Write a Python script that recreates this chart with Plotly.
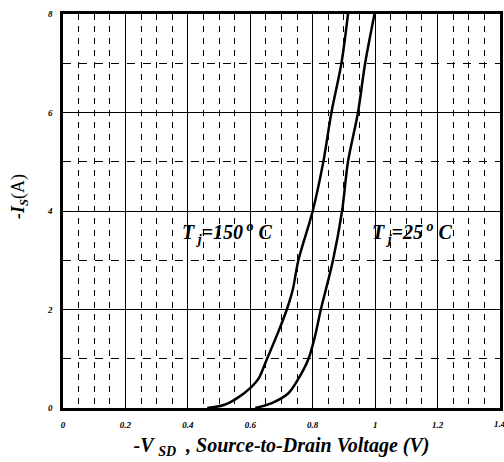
import plotly.graph_objects as go

v_150 = [0.462, 0.515, 0.558, 0.604, 0.627, 0.653, 0.690, 0.717, 0.736, 0.754, 0.800, 0.834, 0.860, 0.892, 0.913]
i_150 = [0.0, 0.06, 0.20, 0.43, 0.60, 0.99, 1.55, 2.00, 2.40, 3.00, 4.00, 5.00, 6.00, 7.00, 8.00]
v_25 = [0.616, 0.669, 0.722, 0.752, 0.786, 0.807, 0.826, 0.842, 0.865, 0.894, 0.913, 0.945, 0.968, 0.998]
i_25 = [0.0, 0.10, 0.30, 0.57, 0.99, 1.45, 2.00, 2.40, 3.00, 4.00, 5.00, 6.00, 7.00, 8.00]

x_ticks = [0, 0.2, 0.4, 0.6, 0.8, 1, 1.2]
x_tick_text = ["0", "0.2", "0.4", "0.6", "0.8", "1", "1.2"]
x_last_tick = 1.4
x_last_text = "1.4"
y_ticks = [0, 2, 4, 6, 8]
y_tick_text = ["0", "2", "4", "6", "8"]

font_family = "Liberation Serif"

fig = go.Figure()
for vx, iy in ((v_150, i_150), (v_25, i_25)):
    fig.add_trace(go.Scatter(x=vx, y=iy, mode="lines",
                             line=dict(color="black", width=2.5, shape="spline", smoothing=0.9),
                             showlegend=False, hoverinfo="skip"))

fig.add_annotation(x=0.528, y=3.55, text="<b><i>T<sub> j</sub>=150<sup> o</sup> C</i></b>",
                   showarrow=False, font=dict(family=font_family, size=20, color="black"))
fig.add_annotation(x=1.12, y=3.55, text="<b><i>T<sub> j</sub>=25<sup> o</sup> C</i></b>",
                   showarrow=False, font=dict(family=font_family, size=20, color="black"))
fig.add_annotation(x=x_last_tick, y=0, xref="x", yref="paper", yanchor="top", yshift=-9,
                   text="<b><i>%s</i></b>" % x_last_text, showarrow=False,
                   font=dict(family=font_family, size=9, color="black"))
fig.add_annotation(x=0, y=0.5, xref="paper", yref="paper", xanchor="center", yanchor="middle",
                   xshift=-44, yshift=14, textangle=-90, showarrow=False,
                   text="<b><i>-I<sub>S</sub></i></b>(A)",
                   font=dict(family=font_family, size=18, color="black"))

fig.update_layout(
    width=504, height=462,
    margin=dict(l=63, r=1, t=14, b=54),
    paper_bgcolor="white", plot_bgcolor="white",
    font=dict(family=font_family, color="black"),
    xaxis=dict(
        range=[0, 1.4], tickvals=x_ticks, ticktext=["<b><i>%s</i></b>" % t for t in x_tick_text],
        tickfont=dict(size=9), ticks="", ticklabelstandoff=6,
        showgrid=True, gridcolor="black", gridwidth=1,
        minor=dict(dtick=0.05, showgrid=True, gridcolor="black", gridwidth=1, griddash="6px,6px"),
        showline=True, linecolor="black", linewidth=2.5, mirror=True, zeroline=False,
        title=dict(text="<b><i>-V <sub>SD</sub>  , Source-to-Drain Voltage (V)</i></b>",
                   font=dict(size=20), standoff=10),
    ),
    yaxis=dict(
        range=[0, 8], tickvals=y_ticks, ticktext=["<b><i>%s</i></b>" % t for t in y_tick_text],
        tickfont=dict(size=9), ticks="", ticklabelstandoff=6,
        showgrid=True, gridcolor="black", gridwidth=1,
        minor=dict(dtick=1, showgrid=True, gridcolor="black", gridwidth=1, griddash="8px,8px"),
        showline=True, linecolor="black", linewidth=2.5, mirror=True, zeroline=False,
    ),
)

fig.write_html("out.html", config={"displayModeBar": False},
               post_script="document.body.style.margin='0';")
